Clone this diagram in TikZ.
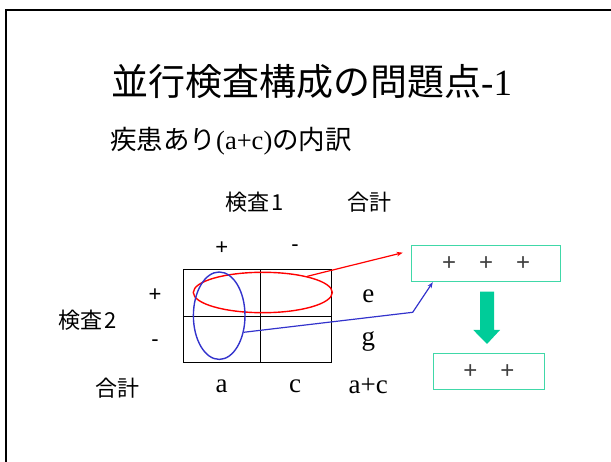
\documentclass[tikz,border=0pt]{standalone}
\usepackage{fontspec}
\setmainfont{Liberation Serif}
\newfontfamily\jp{Noto Sans CJK JP}
\newfontfamily\sans{Liberation Sans}
\usetikzlibrary{shapes.geometric,arrows.meta}
\definecolor{boxline}{HTML}{40D8A8}
\definecolor{arrowgreen}{HTML}{00CC99}
\definecolor{ellblue}{HTML}{3333CC}
\definecolor{plusgray}{HTML}{404040}
\tikzset{
  lbl/.style={inner sep=0pt, font=\jp\fontsize{22}{24}\selectfont},
  sgn/.style={inner sep=0pt, font=\sans\fontsize{22}{24}\selectfont},
  val/.style={inner sep=0pt, font=\fontsize{27}{30}\selectfont},
  resbox/.style={draw=boxline, line width=1pt, inner sep=0pt, font=\sans\fontsize{24}{28}\selectfont, text=plusgray},
  ell/.style={ellipse, draw, line width=1.4pt, inner sep=0pt},
  gridline/.style={line width=0.8pt},
  conn/.style={line width=1.2pt, -{Stealth[length=6pt,width=4.5pt]}},
}
\begin{document}
\begin{tikzpicture}[x=1pt,y=-1pt]
\useasboundingbox (0,0) rectangle (611,462);
\clip (0,0) rectangle (611,462);
% slide frame
\draw[line width=2.5pt] (6,10) rectangle (650,500);
% title
\node[anchor=west, inner sep=0pt, font=\fontsize{37}{40}\selectfont] (title) at (111,82) {{\jp 並行検査構成の問題点}-1};
\node[anchor=west, inner sep=0pt, font=\fontsize{26.5}{30}\selectfont] (sub) at (110,141) {{\jp 疾患あり}(a+c){\jp の内訳}};
% table labels
\node[lbl] (t1) at (255,201.7) {検査\hspace{2pt}1};
\node[lbl] (sumtop) at (369.2,201.7) {合計};
\node[sgn] (cp) at (221.7,248.3) {+};
\node[sgn] (cm) at (295,248) {-};
\node[sgn] (rp) at (155,295) {+};
\node[sgn] (rm) at (155,343.3) {-};
\node[lbl] (t2) at (87.5,320) {検査\hspace{2pt}2};
\node[val] (ve) at (368.3,296.7) {e};
\node[val] (vg) at (368.3,341) {g};
\node[lbl] (sumbot) at (117.5,388.3) {合計};
\node[val] (va) at (221.7,386) {a};
\node[val] (vc) at (295,386) {c};
\node[val] (vac) at (368.3,386) {a+c};
% grid
\coordinate (g1) at (183.3,269.3);
\coordinate (g2) at (331.7,362.3);
\draw[gridline] (g1) rectangle (g2);
\draw[gridline] (260,269.3) -- (260,362.3);
\draw[gridline] (183.3,316) -- (331.7,316);
% ellipses
\node[ell, draw=red, minimum width=139, minimum height=40.4] (redell) at (262.8,292.5) {};
\node[ell, draw=ellblue, minimum width=51.6, minimum height=87.4] (blueell) at (219.2,315.7) {};
% result boxes
\node[resbox, minimum width=149, minimum height=35.7] (box1) at (486.2,263.85) {+\hspace{23pt}+\hspace{23pt}+};
\node[resbox, minimum width=111, minimum height=35.7] (box2) at (488.8,371.2) {+\hspace{23pt}+};
% connectors
\coordinate (rtip) at (402.7,252.7);
\coordinate (bbend) at (412.7,312.3);
\draw[conn, red] (redell.20) -- (rtip);
\draw[conn, ellblue] (blueell.-34) -- (bbend) -- ([xshift=21.6pt]box1.south west);
% green arrow
\fill[arrowgreen] (480,291.7) -- (494,291.7) -- (494,330) -- (500,330) -- (487,344) -- (473.3,330) -- (480,330) -- cycle;
\end{tikzpicture}
\end{document}
